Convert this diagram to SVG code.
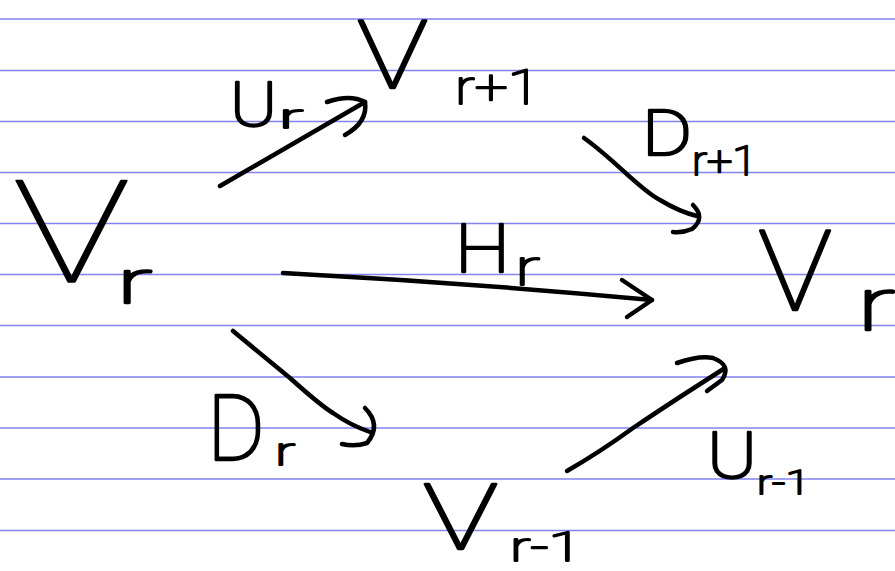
<svg xmlns="http://www.w3.org/2000/svg" width="895" height="571" viewBox="0 0 895 571">
<style>
.ruled line{stroke:#8282f0;stroke-width:1.6}
text{font-family:Roboto,"Noto Sans",sans-serif;font-weight:100;fill:#000;stroke:#000;stroke-linejoin:round;stroke-linecap:round}
.k1{stroke-width:1.5}
.k2{stroke-width:2.3}
.k3{stroke-width:2.6}
.k4{stroke-width:2.1}
.edge path{fill:none;stroke:#000;stroke-width:4.5;stroke-linecap:round;stroke-linejoin:round}
</style>
<rect width="895" height="571" fill="#fff"/>
<g class="ruled">
<line x1="0" y1="19" x2="895" y2="19"/>
<line x1="0" y1="70.5" x2="895" y2="70.5"/>
<line x1="0" y1="121.5" x2="895" y2="121.5"/>
<line x1="0" y1="172.5" x2="895" y2="172.5"/>
<line x1="0" y1="223.5" x2="895" y2="223.5"/>
<line x1="0" y1="274.5" x2="895" y2="274.5"/>
<line x1="0" y1="325.5" x2="895" y2="325.5"/>
<line x1="0" y1="377" x2="895" y2="377"/>
<line x1="0" y1="428" x2="895" y2="428"/>
<line x1="0" y1="479" x2="895" y2="479"/>
<line x1="0" y1="530.5" x2="895" y2="530.5"/>
</g>
<g id="node-Vr-left">
<text class="k1" x="13" y="282" font-size="143" textLength="117" lengthAdjust="spacingAndGlyphs">V</text>
<text class="k3" x="117" y="303" font-size="62" textLength="35" lengthAdjust="spacingAndGlyphs">r</text>
</g>
<g id="node-Vr-plus">
<text class="k2" x="357" y="88" font-size="94" textLength="71" lengthAdjust="spacingAndGlyphs">V</text>
<text class="k4" x="455" y="104" font-size="48" textLength="85" lengthAdjust="spacingAndGlyphs">r+1</text>
</g>
<g id="node-Vr-right">
<text class="k2" x="758" y="310" font-size="112" textLength="74" lengthAdjust="spacingAndGlyphs">V</text>
<text class="k3" x="857" y="330" font-size="75" textLength="38" lengthAdjust="spacingAndGlyphs">r</text>
</g>
<g id="node-Vr-minus">
<text class="k2" x="423" y="549" font-size="90" textLength="75" lengthAdjust="spacingAndGlyphs">V</text>
<text class="k4" x="510" y="561" font-size="40" textLength="72" lengthAdjust="spacingAndGlyphs">r-1</text>
</g>
<g id="connectors">
<g class="edge" id="edge-Ur">
<path d="M220,186 L365,102"/>
<path d="M327,102 Q350,94 365,102 Q368,122 345,135"/>
<text class="k3" x="230" y="126" font-size="62" textLength="47" lengthAdjust="spacingAndGlyphs">U</text>
<text class="k4" x="279" y="128" font-size="34" textLength="24" lengthAdjust="spacingAndGlyphs">r</text>
</g>
<g class="edge" id="edge-Dr1">
<path d="M584,138 C615,160 640,190 660,200 Q680,212 697,216"/>
<path d="M693,205 Q706,218 692,229 Q683,233 673,232"/>
<text class="k3" x="642" y="155" font-size="63" textLength="50" lengthAdjust="spacingAndGlyphs">D</text>
<text class="k4" x="692" y="175" font-size="40" textLength="65" lengthAdjust="spacingAndGlyphs">r+1</text>
</g>
<g class="edge" id="edge-Hr">
<path d="M283,273 Q470,283 652,300"/>
<path d="M622,280 L652,300 L627,317"/>
<text class="k3" x="455" y="272" font-size="66" textLength="55" lengthAdjust="spacingAndGlyphs">H</text>
<text class="k4" x="515" y="285" font-size="50" textLength="25" lengthAdjust="spacingAndGlyphs">r</text>
</g>
<g class="edge" id="edge-Dr">
<path d="M233,331 L290,378 Q320,405 333,413 Q350,425 370,432"/>
<path d="M365,408 Q382,425 367,443 Q355,447 342,444"/>
<text class="k2" x="207" y="460" font-size="91" textLength="58" lengthAdjust="spacingAndGlyphs">D</text>
<text class="k4" x="275" y="465" font-size="38" textLength="20" lengthAdjust="spacingAndGlyphs">r</text>
</g>
<g class="edge" id="edge-Ur1">
<path d="M567,471 Q600,452 633,428 Q660,410 683,395 L725,368"/>
<path d="M677,363 Q700,355 713,358 Q732,365 722,380 L707,391"/>
<text class="k3" x="707" y="478" font-size="65" textLength="50" lengthAdjust="spacingAndGlyphs">U</text>
<text class="k4" x="757" y="494" font-size="34" textLength="53" lengthAdjust="spacingAndGlyphs">r-1</text>
</g>
</g>
</svg>
